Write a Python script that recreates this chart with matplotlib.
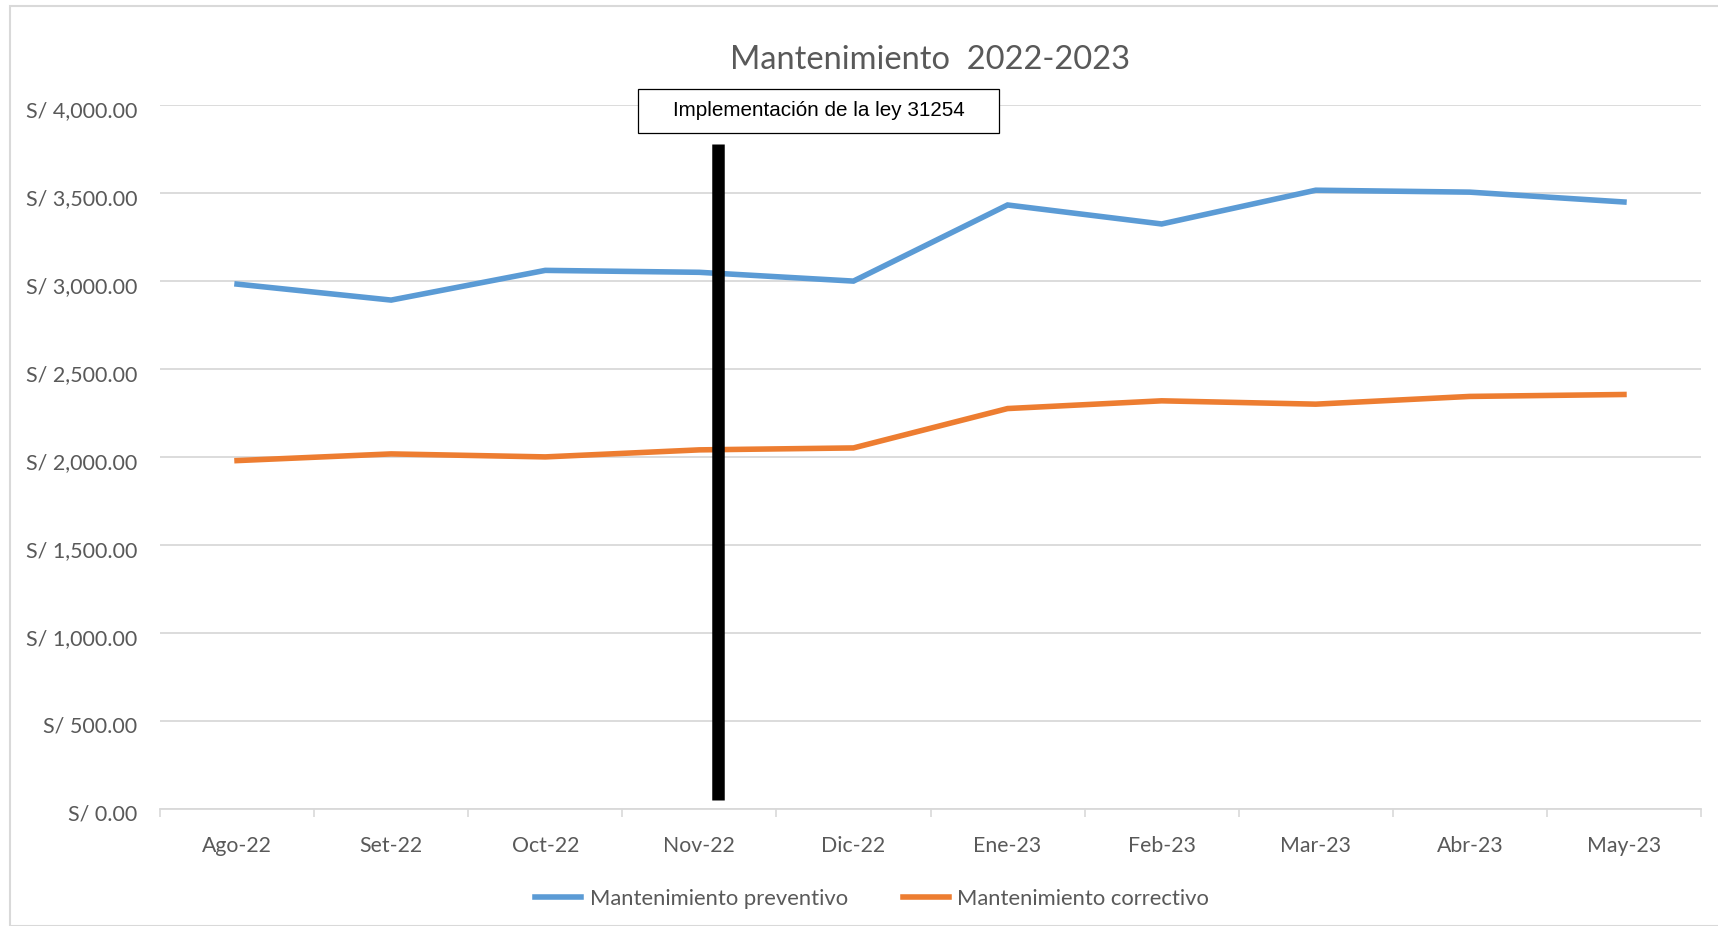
import matplotlib
matplotlib.use("Agg")
import matplotlib.pyplot as plt
from matplotlib.patches import Rectangle
from matplotlib.ticker import FuncFormatter, FixedLocator
from matplotlib.transforms import ScaledTranslation

# ---- data ----
meses = ["Ago-22", "Set-22", "Oct-22", "Nov-22", "Dic-22",
         "Ene-23", "Feb-23", "Mar-23", "Abr-23", "May-23"]
preventivo = [2983, 2892, 3061, 3050, 3000, 3433, 3325, 3517, 3506, 3450]
correctivo = [1979, 2017, 2000, 2040, 2051, 2275, 2319, 2300, 2344, 2355]
y_ticks = [0, 500, 1000, 1500, 2000, 2500, 3000, 3500, 4000]
titulo = "Mantenimiento  2022-2023"
serie_labels = ["Mantenimiento preventivo", "Mantenimiento correctivo"]
ley_texto = "Implementación de la ley 31254"
ley_x = 3.12
ley_y = [50, 3780]

# ---- style ----
C_BLUE = "#5B9BD5"
C_ORANGE = "#ED7D31"
C_GRID = "#D9D9D9"
C_TEXT = "#595959"
FONT = ["Lato", "DejaVu Sans"]

plt.rcParams["font.family"] = FONT

W, H = 1718, 926
fig = plt.figure(figsize=(W / 100, H / 100), dpi=100)
fig.patch.set_facecolor("white")

# chart-area border
fig.patches.append(Rectangle((9.5 / W, 0), 1.0, 1 - 6 / H, transform=fig.transFigure,
                             fill=False, edgecolor=C_GRID, linewidth=1.5, zorder=0))

left, right = 160 / W, 1701 / W
bottom, top = 1 - 808.5 / H, 1 - 105.3 / H
ax = fig.add_axes([left, bottom, right - left, top - bottom])

x = list(range(len(meses)))
ax.plot(x, preventivo, color=C_BLUE, lw=4, solid_joinstyle="miter", zorder=3,
        label=serie_labels[0])
ax.plot(x, correctivo, color=C_ORANGE, lw=4, solid_joinstyle="miter", zorder=3,
        label=serie_labels[1])
ax.plot([ley_x, ley_x], ley_y, color="black", lw=9, solid_capstyle="butt", zorder=4)

ax.set_xlim(-0.5, len(meses) - 0.5)
ax.set_ylim(y_ticks[0], y_ticks[-1])
ax.set_yticks(y_ticks)
ax.yaxis.set_major_formatter(FuncFormatter(lambda v, p: f"S/ {v:,.2f}"))
ax.set_xticks(x)
ax.set_xticklabels(meses)
ax.xaxis.set_minor_locator(FixedLocator([i - 0.5 for i in range(len(meses) + 1)]))

ax.tick_params(axis="y", length=0, pad=16.5, labelsize=15.5, labelcolor=C_TEXT)
ax.tick_params(axis="x", which="major", length=0, pad=20, labelsize=15.3, labelcolor=C_TEXT)
ax.tick_params(axis="x", which="minor", length=6, width=1.2, color=C_GRID, direction="out")

# shift y labels slightly down (as in reference)
off = ScaledTranslation(0, -4 / 100, fig.dpi_scale_trans)
for lab in ax.get_yticklabels():
    lab.set_transform(lab.get_transform() + off)

ax.grid(axis="y", color=C_GRID, lw=1.3, zorder=1)
ax.set_axisbelow(True)
for s in ["top", "right", "left"]:
    ax.spines[s].set_visible(False)
ax.spines["bottom"].set_color(C_GRID)
ax.spines["bottom"].set_linewidth(1.3)

# title
fig.text(930 / W, 1 - 60 / H, titulo, ha="center", va="center", fontsize=23.5,
         color=C_TEXT)

# annotation box
bx0, bx1, by0, by1 = 638, 999, 89, 133
fig.patches.append(Rectangle((bx0 / W, 1 - by1 / H), (bx1 - bx0) / W, (by1 - by0) / H,
                             transform=fig.transFigure, facecolor="white",
                             edgecolor="black", linewidth=0.9, zorder=5))
fig.text((bx0 + bx1) / 2 / W, 1 - (by0 + by1) / 2 / H, ley_texto, ha="center", va="center",
         fontsize=14.9, color="black", family=["Liberation Sans", "DejaVu Sans"], zorder=6)

# legend
fig.legend(loc="center", bbox_to_anchor=(872 / W, 1 - 899 / H), ncol=2, frameon=False,
           fontsize=15.8, labelcolor=C_TEXT, handlelength=2.1, handletextpad=0.4,
           columnspacing=2.5)

fig.savefig("out.png", dpi=100, facecolor="white")
